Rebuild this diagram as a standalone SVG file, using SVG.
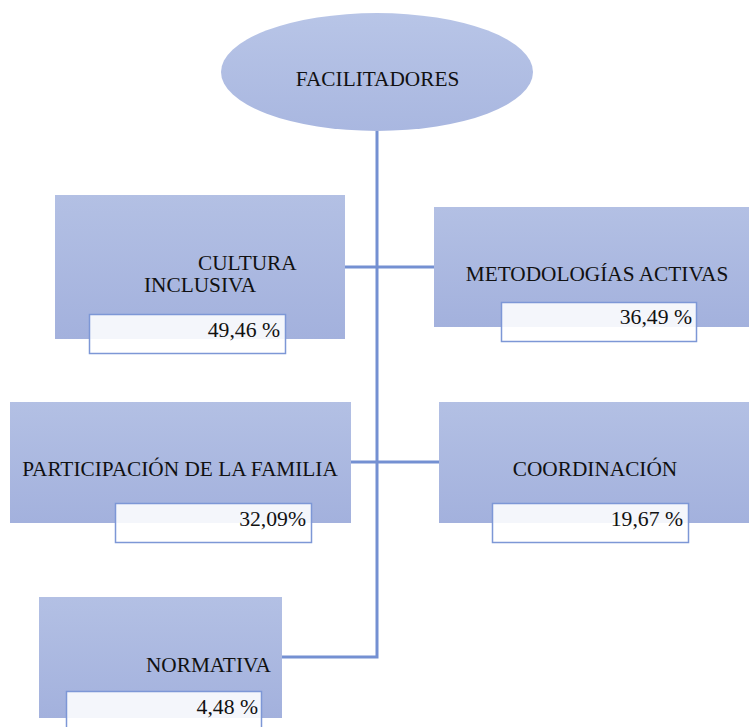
<svg xmlns="http://www.w3.org/2000/svg" width="749" height="727" viewBox="0 0 749 727">
<defs>
<linearGradient id="gRect" x1="0" y1="0" x2="0" y2="1">
<stop offset="0" stop-color="#b3c0e4"/>
<stop offset="1" stop-color="#a3b1dd"/>
</linearGradient>
<linearGradient id="gEll" x1="0" y1="0" x2="0" y2="1">
<stop offset="0" stop-color="#b8c5e7"/>
<stop offset="1" stop-color="#a9b7e0"/>
</linearGradient>
</defs>
<style>
.node{fill:url(#gRect);}
.pct{fill:#ffffff;fill-opacity:0.88;stroke:#7d97d6;stroke-width:1.5;}
.conn{fill:none;stroke:#7490d2;stroke-width:3;}
text{font-family:"Liberation Serif","Times New Roman",serif;font-size:21.3px;fill:#111;}
.p{font-size:21.7px;}
.r{text-anchor:end;}
.m{text-anchor:middle;}
</style>
<rect width="749" height="727" fill="#ffffff"/>
<g id="connectors">
<path class="conn" d="M377,131 V657 H282"/>
<path class="conn" d="M345,267 H434"/>
<path class="conn" d="M351,462 H439"/>
</g>
<g id="facilitadores">
<ellipse cx="377" cy="72" rx="156" ry="59" fill="url(#gEll)"/>
<text x="377.5" y="86" class="m">FACILITADORES</text>
</g>
<g id="cultura-inclusiva">
<rect class="node" x="55" y="195" width="290" height="144"/>
<text x="198" y="270">CULTURA</text>
<text x="144" y="292">INCLUSIVA</text>
<rect class="pct" x="89.5" y="314.5" width="196" height="39"/>
<text x="280" y="337" class="r p">49,46 %</text>
</g>
<g id="metodologias-activas">
<rect class="node" x="434" y="207" width="315" height="120"/>
<text x="597" y="281" class="m">METODOLOGÍAS ACTIVAS</text>
<rect class="pct" x="501.5" y="302.5" width="195" height="39"/>
<text x="692" y="324" class="r p">36,49 %</text>
</g>
<g id="participacion-familia">
<rect class="node" x="10" y="402" width="341" height="121"/>
<text x="180" y="476" class="m">PARTICIPACIÓN DE LA FAMILIA</text>
<rect class="pct" x="115.5" y="503.5" width="196" height="39"/>
<text x="306" y="526" class="r p">32,09%</text>
</g>
<g id="coordinacion">
<rect class="node" x="439" y="402" width="310" height="121"/>
<text x="595" y="476" class="m">COORDINACIÓN</text>
<rect class="pct" x="492.5" y="503.5" width="196" height="39"/>
<text x="683" y="526" class="r p">19,67 %</text>
</g>
<g id="normativa">
<rect class="node" x="39" y="597" width="243" height="121"/>
<text x="271" y="672" class="r">NORMATIVA</text>
<rect class="pct" x="66.5" y="691.5" width="195" height="40"/>
<text x="258" y="714" class="r p">4,48 %</text>
</g>
</svg>
